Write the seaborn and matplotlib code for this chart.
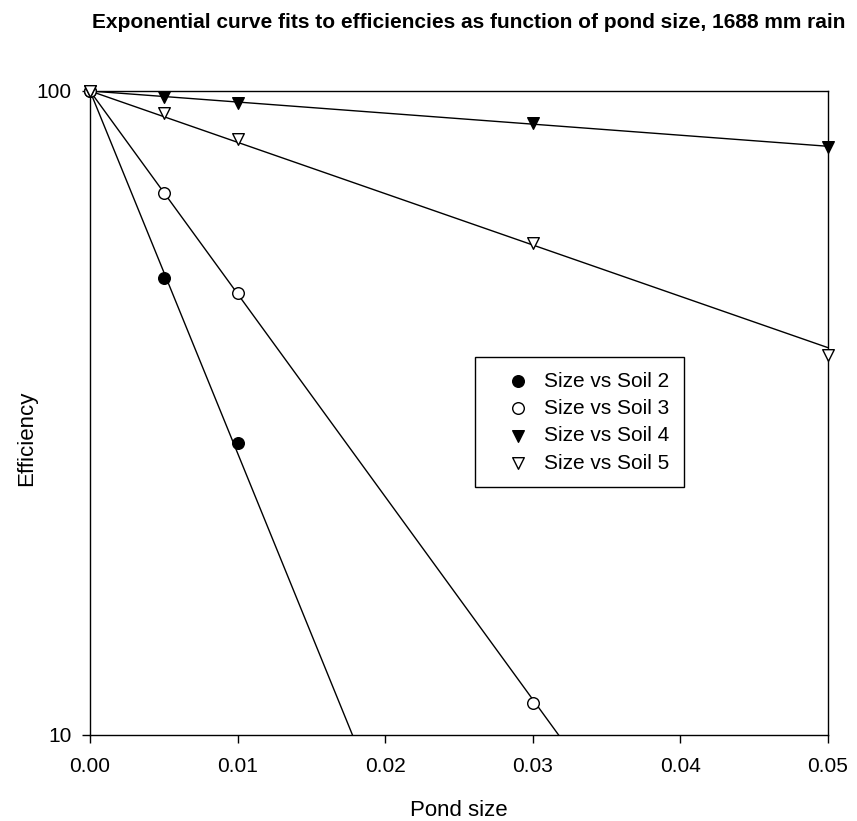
'''
Exponential curve fits to efficiencies vs pond size (1688 mm rain)
'''
import numpy as np
import pandas as pd
import matplotlib
matplotlib.use("Agg")
import matplotlib.pyplot as plt
import seaborn as sns

# pond sizes and efficiencies
pond_size = [0.0, 0.005, 0.01, 0.03, 0.05]
soil2 = [100.0, 51.3, 28.4]
soil3 = [100.0, 69.5, 48.6, 11.2]
soil4 = [100.0, 97.9, 95.8, 89.2, 81.9]
soil5 = [100.0, 92.4, 84.2, 58.1, 38.9]

labels = ['Size vs Soil 2', 'Size vs Soil 3', 'Size vs Soil 4', 'Size vs Soil 5']
series = [soil2, soil3, soil4, soil5]
markers = ['o', 'o', 'v', 'v']
faces = ['black', 'white', 'black', 'white']

sns.set_style("ticks")
plt.rcParams['font.family'] = ['Liberation Sans', 'DejaVu Sans']
plt.rcParams['text.color'] = 'black'

fig = plt.figure(figsize=(8.57, 8.21), dpi=100)
ax = fig.add_axes([0.105, 0.1048, 0.861, 0.7844])

xfit = np.linspace(0, 0.05, 200)
bgrid = np.linspace(1, 200, 20000)
for lab, vals, m, fc in zip(labels, series, markers, faces):
    x = np.array(pond_size[:len(vals)])
    y = np.array(vals)
    # least squares fit of y = 100*exp(-b*x)
    sse = ((y[None, :] - 100 * np.exp(-bgrid[:, None] * x[None, :])) ** 2).sum(axis=1)
    b = bgrid[np.argmin(sse)]
    fit = pd.DataFrame({'x': xfit, 'y': 100 * np.exp(-b * xfit)})
    sns.lineplot(data=fit, x='x', y='y', color='black', linewidth=1.0, ax=ax,
                 label='_nolegend_')
    pts = pd.DataFrame({'x': x, 'y': y})
    sns.scatterplot(data=pts, x='x', y='y', marker=m, s=70, color=fc,
                    edgecolor='black', linewidth=1.0, ax=ax, label=lab,
                    zorder=5, clip_on=False)

ax.set_yscale('log')
ax.set_xlim(0, 0.05)
ax.set_ylim(10, 100)
ax.set_xticks([0, 0.01, 0.02, 0.03, 0.04, 0.05])
ax.set_xticklabels(['0.00', '0.01', '0.02', '0.03', '0.04', '0.05'])
ax.set_yticks([10, 100])
ax.set_yticklabels(['10', '100'])
ax.yaxis.set_minor_locator(matplotlib.ticker.NullLocator())
ax.tick_params(axis='both', labelsize=15, direction='out', length=6, width=1,
               color='black', labelcolor='black')
ax.tick_params(axis='x', pad=10)
ax.tick_params(axis='y', pad=7)
for sp in ax.spines.values():
    sp.set_linewidth(1.0)
    sp.set_color('black')

ax.set_xlabel('Pond size', fontsize=16, color='black')
ax.set_ylabel('Efficiency', fontsize=16, color='black')
ax.xaxis.set_label_coords(0.5, -0.101)
ax.yaxis.set_label_coords(-0.072, 0.461)

leg = ax.legend(loc='upper left', bbox_to_anchor=(0.522, 0.587), fontsize=15,
                frameon=True, fancybox=False, framealpha=1, edgecolor='black',
                handlelength=2.7, handletextpad=-0.1, borderpad=0.7,
                labelspacing=0.4, borderaxespad=0)
leg.get_frame().set_linewidth(1.0)
for t in leg.get_texts():
    t.set_color('black')

fig.text(0.547, 0.973, 'Exponential curve fits to efficiencies as function of pond size, 1688 mm rain',
         ha='center', va='center', fontsize=15, fontweight='bold', color='black')

plt.savefig('out.png', dpi=100)
